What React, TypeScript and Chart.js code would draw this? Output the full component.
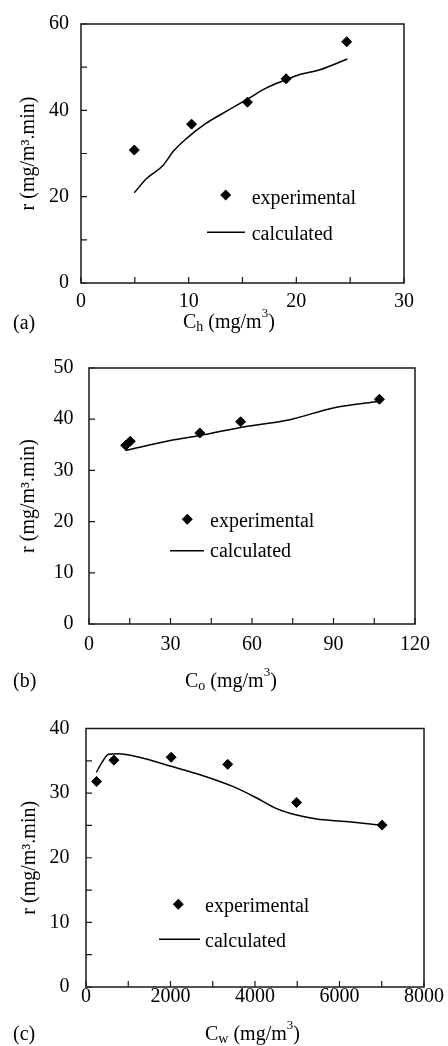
import React, { useEffect, useRef } from "react";
import { Chart, registerables } from "chart.js";

Chart.register(...registerables);

if (typeof document !== "undefined") document.body.style.margin = "0";

const FONT = "'Liberation Serif', 'Times New Roman', serif";
const INK = "#000";

// ---- Panel (a): r vs C_h ----
const aExpX = [4.95, 10.27, 15.46, 19.05, 24.68];
const aExpY = [30.8, 36.8, 41.9, 47.3, 55.9];
const aCalcX = [4.95, 6.09, 7.64, 8.57, 9.81, 11.57, 13.52, 15.46, 17.23, 19.05, 20.32, 22.18, 24.74];
const aCalcY = [20.9, 24.2, 27.3, 30.5, 33.5, 36.9, 39.8, 42.6, 45.2, 47.1, 48.3, 49.4, 51.9];

// ---- Panel (b): r vs C_o ----
const bExpX = [13.5, 15.2, 40.8, 55.8, 106.9];
const bExpY = [34.9, 35.7, 37.3, 39.5, 43.9];
const bCalcX = [13.5, 30.3, 40.8, 55.8, 73.9, 89.9, 106.9];
const bCalcY = [33.9, 35.9, 36.8, 38.4, 39.9, 42.2, 43.5];

// ---- Panel (c): r vs C_w ----
const cExpX = [251, 661, 2015, 3354, 4984, 7008];
const cExpY = [31.8, 35.1, 35.55, 34.45, 28.55, 25.05];
const cCalcX = [244, 378, 535, 772, 1283, 2015, 2700, 3487, 4040, 4512, 4984, 5457, 6166, 7008];
const cCalcY = [33.2, 34.75, 36.0, 36.1, 35.5, 34.15, 32.85, 31.0, 29.25, 27.6, 26.6, 26.0, 25.6, 25.0];

const seriesLabels = ["experimental", "calculated"];
const yTitle = "r (mg/m³.min)";
const panelTags = ["(a)", "(b)", "(c)"];
const xSubs = ["h", "o", "w"];

type Panel = {
  top: number;
  height: number;
  area: { l: number; t: number; r: number; b: number };
  xMax: number; xStep: number; xLabelEvery: number;
  yMax: number; yStep: number; yLabelEvery: number;
  xTickPad: number; yTickPad: number; yTitlePad: number;
  expX: number[]; expY: number[]; calcX: number[]; calcY: number[];
  tag: string; sub: string;
  titleX: number; titleBase: number; tagX: number; tagBase: number;
  leg: { mx: number; my: number; tx: number; eBase: number; lx1: number; lx2: number; ly: number; cBase: number };
};

const panels: Panel[] = [
  {
    top: 0, height: 340,
    area: { l: 81, t: 18, r: 404, b: 283 },
    xMax: 30, xStep: 5, xLabelEvery: 10,
    yMax: 60, yStep: 10, yLabelEvery: 20,
    xTickPad: 7, yTickPad: 12, yTitlePad: 17,
    expX: aExpX, expY: aExpY, calcX: aCalcX, calcY: aCalcY,
    tag: panelTags[0], sub: xSubs[0],
    titleX: 183, titleBase: 328, tagX: 13, tagBase: 329,
    leg: { mx: 225.7, my: 195, tx: 251.7, eBase: 204, lx1: 207, lx2: 245, ly: 232.3, cBase: 240 },
  },
  {
    top: 340, height: 360,
    area: { l: 89, t: 28, r: 415, b: 284 },
    xMax: 120, xStep: 15, xLabelEvery: 30,
    yMax: 50, yStep: 10, yLabelEvery: 10,
    xTickPad: 9, yTickPad: 15.5, yTitlePad: 16.5,
    expX: bExpX, expY: bExpY, calcX: bCalcX, calcY: bCalcY,
    tag: panelTags[1], sub: xSubs[1],
    titleX: 185, titleBase: 346.5, tagX: 13, tagBase: 346.5,
    leg: { mx: 187.3, my: 179.3, tx: 210, eBase: 186.7, lx1: 170, lx2: 204, ly: 210.7, cBase: 217.3 },
  },
  {
    top: 700, height: 346,
    area: { l: 86, t: 20, r: 424, b: 287 },
    xMax: 8000, xStep: 1000, xLabelEvery: 2000,
    yMax: 40, yStep: 5, yLabelEvery: 10,
    xTickPad: -2, yTickPad: 16.5, yTitlePad: 18,
    expX: cExpX, expY: cExpY, calcX: cCalcX, calcY: cCalcY,
    tag: panelTags[2], sub: xSubs[2],
    titleX: 205, titleBase: 340, tagX: 13, tagBase: 340,
    leg: { mx: 178.3, my: 204.3, tx: 205, eBase: 211.7, lx1: 159, lx2: 200, ly: 239.3, cBase: 246.7 },
  },
];

const isMul = (v: number, m: number) => {
  const r = Math.abs(v / m - Math.round(v / m));
  return r < 1e-9;
};

function drawRich(ctx: CanvasRenderingContext2D, x: number, base: number, parts: [string, number, number][]) {
  let cx = x;
  ctx.textAlign = "left";
  ctx.textBaseline = "alphabetic";
  for (const [t, size, dy] of parts) {
    ctx.font = `${size}px ${FONT}`;
    ctx.fillText(t, cx, base + dy);
    cx += ctx.measureText(t).width;
  }
}

function diamond(ctx: CanvasRenderingContext2D, x: number, y: number, r: number) {
  ctx.beginPath();
  ctx.moveTo(x - r, y);
  ctx.lineTo(x, y - r);
  ctx.lineTo(x + r, y);
  ctx.lineTo(x, y + r);
  ctx.closePath();
  ctx.fill();
}

function PanelChart({ p }: { p: Panel }) {
  const ref = useRef<HTMLCanvasElement>(null);
  useEffect(() => {
    const canvas = ref.current!;
    const decor = {
      id: "decor",
      afterDraw(chart: any) {
        const ctx: CanvasRenderingContext2D = chart.ctx;
        const a = chart.chartArea;
        const xs = chart.scales.x;
        const ys = chart.scales.y;
        ctx.save();
        ctx.strokeStyle = "#1a1a1a";
        ctx.lineWidth = 1.5;
        ctx.strokeRect(a.left, a.top, a.right - a.left, a.bottom - a.top);
        ctx.lineWidth = 1.2;
        ctx.beginPath();
        for (const t of xs.ticks) {
          const px = xs.getPixelForValue(t.value);
          ctx.moveTo(px, a.bottom);
          ctx.lineTo(px, a.bottom - 6);
        }
        for (const t of ys.ticks) {
          const py = ys.getPixelForValue(t.value);
          ctx.moveTo(a.left, py);
          ctx.lineTo(a.left + 6, py);
        }
        ctx.stroke();
        ctx.fillStyle = INK;
        // x-axis title with subscript and superscript
        drawRich(ctx, p.titleX, p.titleBase, [
          ["C", 20, 0],
          [p.sub, 14, 3],
          [" (mg/m", 20, 0],
          ["3", 13, -11],
          [")", 20, 0],
        ]);
        // panel tag
        ctx.font = `20px ${FONT}`;
        ctx.fillText(p.tag, p.tagX, p.tagBase);
        // legend
        const L = p.leg;
        diamond(ctx, L.mx, L.my, 5.5);
        ctx.font = `20px ${FONT}`;
        ctx.fillText(chart.data.datasets[1].label, L.tx, L.eBase);
        ctx.strokeStyle = INK;
        ctx.lineWidth = 1.5;
        ctx.beginPath();
        ctx.moveTo(L.lx1, L.ly);
        ctx.lineTo(L.lx2, L.ly);
        ctx.stroke();
        ctx.fillText(chart.data.datasets[0].label, L.tx, L.cBase);
        ctx.restore();
      },
    };
    const chart = new Chart(canvas, {
      type: "scatter",
      data: {
        datasets: [
          {
            label: seriesLabels[1],
            data: p.calcX.map((x, i) => ({ x, y: p.calcY[i] })),
            showLine: true,
            pointRadius: 0,
            borderColor: INK,
            borderWidth: 1.5,
            cubicInterpolationMode: "monotone",
            fill: false,
          },
          {
            label: seriesLabels[0],
            data: p.expX.map((x, i) => ({ x, y: p.expY[i] })),
            showLine: false,
            pointStyle: "rectRot",
            pointRadius: 5,
            borderWidth: 1,
            backgroundColor: INK,
            borderColor: INK,
          },
        ],
      },
      options: {
        responsive: false,
        animation: false,
        devicePixelRatio: 1,
        layout: { padding: { left: 0, top: p.area.t, right: 448 - p.area.r, bottom: 0 } },
        plugins: { legend: { display: false }, tooltip: { enabled: false } },
        scales: {
          x: {
            type: "linear",
            min: 0,
            max: p.xMax,
            grid: { display: false, drawTicks: false },
            border: { display: false },
            ticks: {
              stepSize: p.xStep,
              autoSkip: false,
              maxRotation: 0,
              padding: p.xTickPad,
              color: INK,
              font: { family: FONT, size: 20 },
              callback: (v: any) => (isMul(Number(v), p.xLabelEvery) ? String(v) : ""),
            },
            afterFit: (s: any) => {
              s.height = p.height - p.area.b;
            },
          },
          y: {
            type: "linear",
            min: 0,
            max: p.yMax,
            grid: { display: false, drawTicks: false },
            border: { display: false },
            ticks: {
              stepSize: p.yStep,
              autoSkip: false,
              padding: p.yTickPad,
              color: INK,
              font: { family: FONT, size: 20 },
              callback: (v: any) => (isMul(Number(v), p.yLabelEvery) ? String(v) : ""),
            },
            title: {
              display: true,
              text: yTitle,
              color: INK,
              font: { family: FONT, size: 20 },
              padding: { top: p.yTitlePad, bottom: 0 },
            },
            afterFit: (s: any) => {
              s.width = p.area.l;
            },
          },
        },
      } as any,
      plugins: [decor],
    });
    return () => chart.destroy();
  }, [p]);
  return (
    <canvas
      ref={ref}
      width={448}
      height={p.height}
      style={{ position: "absolute", left: 0, top: p.top, width: 448, height: p.height, display: "block" }}
    />
  );
}

export default function App() {
  useEffect(() => {
    document.body.style.margin = "0";
  }, []);
  return (
    <div style={{ position: "relative", width: 448, height: 1046, background: "#fff", overflow: "hidden" }}>
      {panels.map((p, i) => (
        <PanelChart key={i} p={p} />
      ))}
    </div>
  );
}
